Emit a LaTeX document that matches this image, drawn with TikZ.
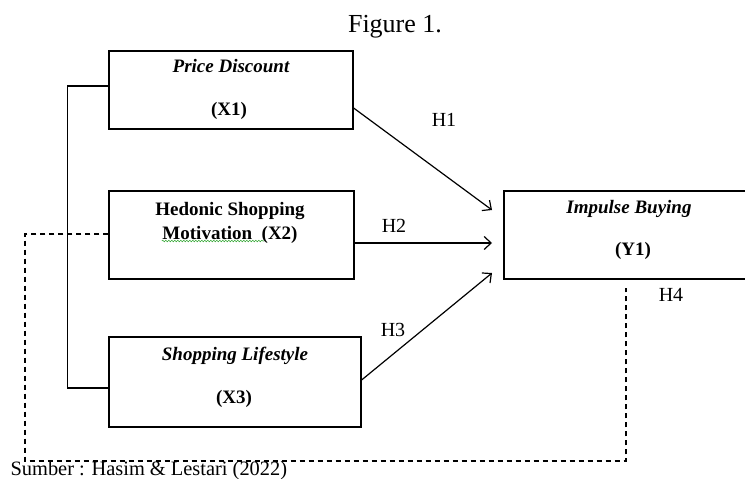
\documentclass[tikz,border=0pt]{standalone}
\usepackage{fontspec}
\setmainfont{Liberation Serif}
\usetikzlibrary{arrows.meta, positioning, decorations.pathmorphing}
\definecolor{spellgreen}{RGB}{60, 170, 60}

\begin{document}
\begin{tikzpicture}[x=1pt, y=-1pt, line width=1.2pt,
    varbox/.style={draw, rectangle, inner sep=0pt},
    boxtext/.style={anchor=base, inner sep=0pt, font=\fontsize{19}{23}\selectfont\bfseries},
    hyp/.style={anchor=base, inner sep=0pt, font=\fontsize{20}{24}\selectfont},
    link/.style={-{Straight Barb[length=7pt, width=13pt]}}]

    \useasboundingbox (0,0) rectangle (745,479);

    % Title
    \node[anchor=base, inner sep=0pt, font=\fontsize{26}{30}\selectfont] (title) at (395,32) {Figure 1.};

    % Price Discount
    \node[varbox, minimum width=244pt, minimum height=78pt] (X1) at (231,90) {};
    \node[boxtext, font=\fontsize{19}{23}\selectfont\bfseries\itshape] (X1a) at (231,72) {Price Discount};
    \node[boxtext] (X1b) at (229,115) {(X1)};

    % Hedonic Shopping Motivation
    \node[varbox, minimum width=245pt, minimum height=88pt] (X2) at (231.5,235) {};
    \node[boxtext] (X2a) at (230,215) {Hedonic Shopping};
    \node[boxtext] (X2b) at (230,239) {Motivation\ \ (X2)};
    \draw[spellgreen, line width=0.6pt, decorate,
          decoration={snake, amplitude=0.8pt, segment length=3pt}]
        ([yshift=-2pt]X2b.base west) -- ([xshift=-34pt, yshift=-2pt]X2b.base east);

    % Shopping Lifestyle
    \node[varbox, minimum width=252pt, minimum height=90pt] (X3) at (235,382) {};
    \node[boxtext, font=\fontsize{19}{23}\selectfont\bfseries\itshape] (X3a) at (235,360) {Shopping Lifestyle};
    \node[boxtext] (X3b) at (234,403) {(X3)};

    % Impulse Buying
    \node[varbox, minimum width=244pt, minimum height=88pt] (Y1) at (626,235) {};
    \node[boxtext, font=\fontsize{19}{23}\selectfont\bfseries\itshape] (Y1a) at (629,213) {Impulse Buying};
    \node[boxtext] (Y1b) at (633,255) {(Y1)};

    % arrow ends
    \coordinate (t1) at (492,210);
    \coordinate (t2) at (492,243);
    \coordinate (t3) at (492,273);
    \coordinate (h4) at (626,288);

    \draw[link] ([yshift=-18pt]X1.east) -- (t1);
    \draw[link] ([yshift=-8pt]X2.east) -- (t2);
    \draw[link] ([yshift=2pt]X3.east) -- (t3);

    \node[hyp] (H1) at (444,126) {H1};
    \node[hyp] (H2) at (394,232) {H2};
    \node[hyp] (H3) at (393,336) {H3};
    \node[hyp] (H4) at (671,301) {H4};

    % bracket X1 - X3
    \draw ([yshift=4pt]X1.west) -- ++(-41,0) |- ([yshift=-6pt]X3.west);

    % moderation path
    \draw[line width=1.1pt, dash pattern=on 5pt off 4pt]
        ([yshift=1pt]X2.west) -| (25,461) -| (h4);

    % source
    \node[anchor=base west, inner sep=0pt, font=\fontsize{20.4}{24}\selectfont] (src) at (10,475) {Sumber : Hasim \& Lestari (2022)};

\end{tikzpicture}
\end{document}
